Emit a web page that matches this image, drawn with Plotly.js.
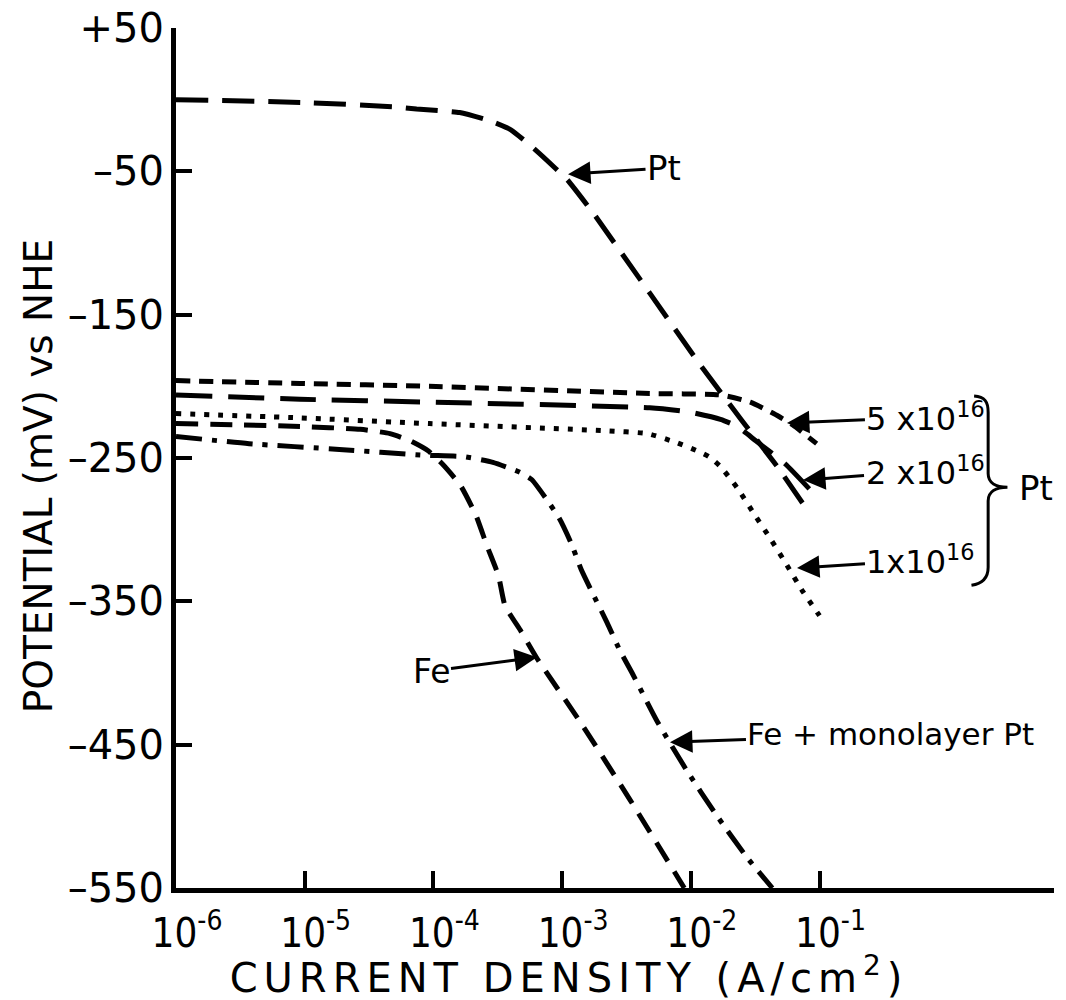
<!DOCTYPE html>
<html>
<head>
<meta charset="utf-8">
<script src="https://cdn.plot.ly/plotly-3.0.1.min.js"></script>
<style>
  html, body { margin: 0; padding: 0; background: #fff; }
  #chart { width: 1066px; height: 1000px; }
  .xtitle { letter-spacing: 6px; }
  .g-xtitle { transform: translateX(-46px); }
  .g-ytitle { transform: translate(6px, 18px); }
</style>
</head>
<body>
<div id="chart"></div>
<script>
// Cathodic polarization curves: current density (A/cm^2) vs potential (mV vs NHE)

// Pure platinum
const ptCurrent   = [1.0e-6, 1.0e-5, 5.0e-5, 7.4e-5, 1.6e-4, 2.8e-4, 4.0e-4, 6.2e-4, 8.9e-4, 1.1e-3, 1.74e-3, 4.8e-3, 1.12e-2, 2.5e-2, 4.7e-2, 8.0e-2];
const ptPotential = [0, -2, -5, -6.5, -9, -15, -21, -35, -48, -56, -79, -135, -182, -224, -256, -286];

// Fe implanted with 5 x 10^16 Pt
const pt5Current   = [1.0e-6, 9.2e-6, 9.3e-5, 4.8e-3, 1.7e-2, 2.9e-2, 4.4e-2, 6.2e-2, 9.5e-2];
const pt5Potential = [-196, -198, -200, -205, -206, -211, -219, -227, -240];

// Fe implanted with 2 x 10^16 Pt
const pt2Current   = [1.0e-6, 9.2e-6, 9.3e-5, 4.8e-3, 9.8e-3, 1.7e-2, 2.3e-2, 3.2e-2, 5.4e-2, 9.5e-2];
const pt2Potential = [-206, -209, -211, -215, -218, -223, -228, -238, -254, -277];

// Fe implanted with 1 x 10^16 Pt
const pt1Current   = [1.0e-6, 9.2e-6, 9.3e-5, 2.2e-3, 4.6e-3, 7.6e-3, 1.12e-2, 1.38e-2, 1.7e-2, 2.3e-2, 3.1e-2, 4.2e-2, 5.6e-2, 7.4e-2, 1.0e-1];
const pt1Potential = [-219, -222, -226, -231, -233, -239, -245, -249, -256, -271, -289, -307, -325, -343, -360];

// Pure iron
const feCurrent   = [1.0e-6, 9.2e-6, 2.7e-5, 4.6e-5, 6.6e-5, 9.1e-5, 1.17e-4, 1.62e-4, 2.14e-4, 2.6e-4, 3.2e-4, 3.6e-4, 4.8e-4, 6.3e-4, 1.38e-3, 3.4e-3, 8.9e-3];
const fePotential = [-226, -228, -230, -233, -238, -245, -254, -269, -290, -311, -332, -353, -371, -389, -434, -489, -550];

// Iron + monolayer Pt
const feMonoCurrent   = [1.0e-6, 3.7e-6, 1.86e-5, 8.3e-5, 1.7e-4, 2.9e-4, 4.7e-4, 5.8e-4, 7.6e-4, 9.5e-4, 1.17e-3, 1.41e-3, 1.74e-3, 2.24e-3, 2.8e-3, 3.5e-3, 5.5e-3, 9.3e-3, 1.55e-2, 2.75e-2, 4.3e-2];
const feMonoPotential = [-235, -240, -244, -248, -249, -253, -260, -265, -279, -292, -309, -328, -345, -365, -384, -400, -434, -468, -498, -529, -550];

// Axis ticks
const xTickVals = [1e-6, 1e-5, 1e-4, 1e-3, 1e-2, 1e-1];
const xTickText = ['10<sup>-6</sup>', '10<sup>-5</sup>', '10<sup>-4</sup>', '10<sup>-3</sup>', '10<sup>-2</sup>', '10<sup>-1</sup>'];
const yTickVals = [50, -50, -150, -250, -350, -450, -550];
const yTickText = ['+50', '\u201350', '\u2013150', '\u2013250', '\u2013350', '\u2013450', '\u2013550'];

const FONT = 'DejaVu Sans, Liberation Sans, sans-serif';
const NARROW = 'Liberation Sans Narrow, DejaVu Sans Condensed, DejaVu Sans, sans-serif';

function curve(x, y, dash, name) {
  return {
    x: x, y: y, name: name, type: 'scatter', mode: 'lines',
    line: { color: '#000', width: 5, dash: dash, shape: 'spline', smoothing: 0.5 },
    hoverinfo: 'skip'
  };
}

const traces = [
  curve(ptCurrent, ptPotential, '32px,14px', 'Pt'),
  curve(pt5Current, pt5Potential, '14px,9px', '5x10^16'),
  curve(pt2Current, pt2Potential, '36px,16px', '2x10^16'),
  curve(pt1Current, pt1Potential, '5px,9px', '1x10^16'),
  curve(feCurrent, fePotential, '22px,12px', 'Fe'),
  curve(feMonoCurrent, feMonoPotential, '26px,10px,5px,10px', 'Fe + monolayer Pt')
];

function label(text, x, y, ax, ay, size) {
  return {
    text: text, x: x, y: y, xref: 'x', yref: 'y', ax: ax, ay: ay,
    showarrow: true, arrowhead: 2, arrowsize: 1.5, arrowwidth: 3, arrowcolor: '#000',
    font: { family: FONT, size: size || 32, color: '#000' }
  };
}

const annotations = [
  label('Pt', -2.954, -52, 96, -6, 34),
  label('5 x10<sup>16</sup>', -1.253, -225.6, 139, -6),
  label('2 x10<sup>16</sup>', -1.128, -265.4, 122, -9),
  label('1x10<sup>16</sup>', -1.175, -326.8, 124, -8),
  label('Fe', -3.195, -389, -106, 14, 33),
  label('Fe + monolayer Pt', -2.162, -448.3, 221, -8, 31),
  {
    text: 'Pt', xref: 'paper', yref: 'paper', x: 0.9795, y: 0.4651,
    xanchor: 'center', yanchor: 'middle',
    showarrow: false, font: { family: FONT, size: 34, color: '#000' }
  }
];

// Curly brace grouping the three implanted-Pt curves
const shapes = [{
  type: 'path', xref: 'paper', yref: 'paper',
  path: 'M 0.909,0.572 C 0.921,0.571 0.925,0.566 0.925,0.553 L 0.925,0.482 ' +
        'C 0.925,0.471 0.934,0.466 0.947,0.466 C 0.934,0.466 0.925,0.461 0.925,0.450 ' +
        'L 0.925,0.373 C 0.925,0.361 0.919,0.354 0.906,0.352',
  line: { color: '#000', width: 3 }
}];

const layout = {
  width: 1066, height: 1000,
  margin: { l: 176, r: 12, t: 28, b: 112, pad: 0 },
  paper_bgcolor: '#fff', plot_bgcolor: '#fff',
  showlegend: false,
  font: { family: FONT, color: '#000' },
  xaxis: {
    type: 'log', range: [-6, 0.822],
    showline: true, linecolor: '#000', linewidth: 5,
    ticks: 'inside', ticklen: 17, tickwidth: 4, tickcolor: '#000',
    tickmode: 'array', tickvals: xTickVals, ticktext: xTickText,
    tickfont: { family: NARROW, size: 40, color: '#000' },
    ticklabelshift: 11, ticklabelstandoff: 6,
    showgrid: false, zeroline: false,
    title: {
      text: 'CURRENT DENSITY (A/cm<sup>2</sup>)',
      font: { family: FONT, size: 40, color: '#000' }, standoff: 10
    }
  },
  yaxis: {
    range: [-550, 50],
    showline: true, linecolor: '#000', linewidth: 5,
    ticks: 'inside', ticklen: 16, tickwidth: 4, tickcolor: '#000',
    tickmode: 'array', tickvals: yTickVals, ticktext: yTickText,
    tickfont: { family: FONT, size: 40, color: '#000' },
    ticklabelstandoff: -1,
    showgrid: false, zeroline: false,
    title: {
      text: 'POTENTIAL (mV) vs NHE',
      font: { family: FONT, size: 39, color: '#000' }, standoff: 10
    }
  },
  annotations: annotations,
  shapes: shapes
};

Plotly.newPlot('chart', traces, layout, { staticPlot: true, displayModeBar: false });
</script>
</body>
</html>
